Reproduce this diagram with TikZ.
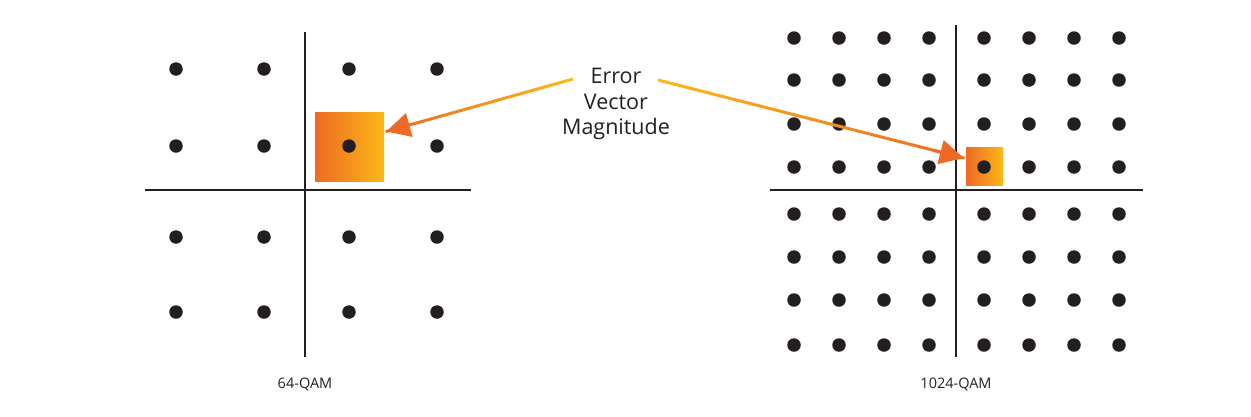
\documentclass[tikz,border=0pt]{standalone}
\usepackage{fontspec}
\setmainfont{Open Sans}
\usetikzlibrary{arrows.meta,calc}
\definecolor{ink}{HTML}{231F20}
\definecolor{evmorange}{HTML}{EE6A24}
\definecolor{evmyellow}{HTML}{FBB817}
\tikzset{
  axis/.style={draw=ink,line width=2.6pt},
  pt/.style={circle,fill=ink,inner sep=0pt,minimum size=13.5pt},
  errbox/.style={draw=none,inner sep=0pt,left color=evmorange,right color=evmyellow},
  qamlabel/.style={font=\fontsize{14.5}{17}\selectfont,text=ink},
}
\begin{document}
\begin{tikzpicture}[x=1pt,y=-1pt]
\useasboundingbox (0,0) rectangle (1251,416);
% left constellation
\node[errbox,minimum width=69pt,minimum height=69pt] (boxL) at (349.5,146.5) {};
\draw[axis] (305,32) -- (305,357);
\draw[axis] (145,190) -- (471,190);
\foreach \x [count=\i] in {176,264,349,437}
  \foreach \y [count=\j] in {69,146,237,312}
    \node[pt] (L\i\j) at (\x,\y) {};
\node[qamlabel] (labL) at (305,384) {64-QAM};
% right constellation
\node[errbox,minimum width=37pt,minimum height=38pt] (boxR) at (984.5,166) {};
\draw[axis] (956,25) -- (956,357);
\draw[axis] (770,190) -- (1143,190);
\foreach \x [count=\i] in {794,839,884,929,984,1029,1074,1119}
  \foreach \y [count=\j] in {38,80,124,167,214,257,300,345}
    \node[pt] (R\i\j) at (\x,\y) {};
\node[qamlabel] (labR) at (956,384) {1024-QAM};
% text
\node[align=center,font=\fontsize{21.5}{25.5}\selectfont,text=ink] (evm) at (616,104) {Error\\Vector\\Magnitude};
\coordinate (sL) at (573,79);
\coordinate (eL) at ($(boxL.east)+(2,-15)$);
\coordinate (sR) at (658,80);
\coordinate (eR) at ($(boxR.west)+(-2,-8)$);
% gradient arrows
\foreach \s/\e in {sL/eL,sR/eR}{
  \foreach \k in {0,...,19}{
    \pgfmathsetmacro{\ta}{\k/20}
    \pgfmathsetmacro{\tb}{(\k+1.05)/20}
    \pgfmathsetmacro{\p}{100*\k/19}
    \colorlet{segc}{evmorange!\p!evmyellow}
    \draw[segc,line width=3pt] ($(\s)!\ta!(\e)$) -- ($(\s)!\tb!(\e)$);
  }
  \draw[-{Triangle[length=24pt,width=24pt]},evmorange,line width=3pt] ($(\s)!0.9!(\e)$) -- (\e);
}
\end{tikzpicture}
\end{document}
